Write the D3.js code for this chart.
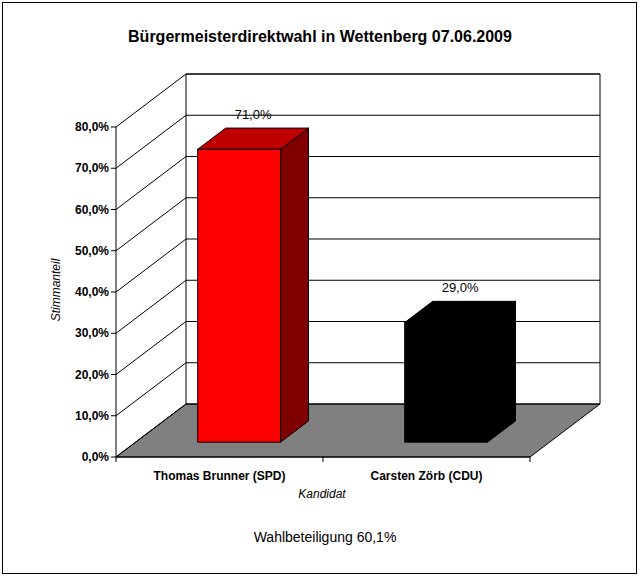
<!DOCTYPE html><html><head><meta charset="utf-8">
<script src="https://cdn.jsdelivr.net/npm/d3@7"></script>
<style>body{margin:0;background:#fff}</style></head><body>
<svg id="c" width="640" height="577"></svg>
<script>
const categories=["Thomas Brunner (SPD)","Carsten Zörb (CDU)"];
const values=[71.0,29.0];
const colors=["#ff0000","#000000"];
const sideColors=["#800000","#000000"];
const topColors=["#c00000","#000000"];
const ticks=[0,10,20,30,40,50,60,70,80];
const svg=d3.select("#c");
const F="Arial, 'Liberation Sans', sans-serif";
svg.append("rect").attr("x",2.5).attr("y",2.5).attr("width",634).attr("height",571).attr("fill","#fff").attr("stroke","#000");
const x0=116,x1=530,DX=70,DY=-53;
const y=d3.scaleLinear().domain([0,80]).range([457,127]);
const xb=d3.scaleBand().domain(categories).range([x0,x1]);
const g=svg.append("g").attr("stroke","#000").attr("stroke-width",1);
// floor
g.append("path").attr("d",`M${x0},457L${x1},457L${x1+DX},${457+DY}L${x0+DX},${457+DY}Z`).attr("fill","#808080");
// back wall & side wall
g.append("path").attr("d",`M${x0+DX},${y(80)+DY}L${x1+DX},${y(80)+DY}L${x1+DX},${457+DY}`).attr("fill","none");
g.append("line").attr("x1",x0+DX).attr("x2",x0+DX).attr("y1",y(80)+DY).attr("y2",457+DY);
ticks.forEach(t=>{
  g.append("path").attr("fill","none").attr("d",`M${x0},${y(t)}L${x0+DX},${y(t)+DY}L${x1+DX},${y(t)+DY}`);
  g.append("line").attr("x1",x0-5).attr("x2",x0).attr("y1",y(t)).attr("y2",y(t));
  svg.append("text").attr("x",x0-7).attr("y",y(t)+4).attr("text-anchor","end").attr("font-family",F).attr("font-size",12).attr("font-weight","bold").text(t.toFixed(1).replace(".",",")+"%");
});
g.append("line").attr("x1",x0).attr("x2",x0).attr("y1",y(80)).attr("y2",457);
g.append("line").attr("x1",x0).attr("x2",x1).attr("y1",457).attr("y2",457);
[x0,(x0+x1)/2,x1].forEach(v=>g.append("line").attr("x1",v).attr("x2",v).attr("y1",457).attr("y2",462));
// bars
const t0=0.28,bw=xb.bandwidth()*0.4,bd=0.4;
const ox=DX*t0,oy=DY*t0,ddx=DX*bd,ddy=DY*bd;
categories.forEach((c,i)=>{
  const xl=xb(c)+xb.bandwidth()*0.3+ox,xr=xl+bw,yb=457+oy,yt=y(values[i])+oy;
  const bg=svg.append("g").attr("stroke","#000");
  bg.append("path").attr("fill",sideColors[i]).attr("d",`M${xr},${yb}L${xr+ddx},${yb+ddy}L${xr+ddx},${yt+ddy}L${xr},${yt}Z`);
  bg.append("path").attr("fill",topColors[i]).attr("d",`M${xl},${yt}L${xl+ddx},${yt+ddy}L${xr+ddx},${yt+ddy}L${xr},${yt}Z`);
  bg.append("rect").attr("fill",colors[i]).attr("x",xl).attr("y",yt).attr("width",bw).attr("height",yb-yt);
  svg.append("text").attr("x",xl+bw/2+ddx/2).attr("y",yt+ddy-9).attr("text-anchor","middle").attr("font-family",F).attr("font-size",13).text(values[i].toFixed(1).replace(".",",")+"%");
  svg.append("text").attr("x",xb(c)+xb.bandwidth()/2).attr("y",480).attr("text-anchor","middle").attr("font-family",F).attr("font-size",12).attr("font-weight","bold").text(c);
});
svg.append("text").attr("x",320).attr("y",42).attr("text-anchor","middle").attr("font-family",F).attr("font-size",16).attr("font-weight","bold").text("Bürgermeisterdirektwahl in Wettenberg 07.06.2009");
svg.append("text").attr("transform","translate(60,290) rotate(-90)").attr("text-anchor","middle").attr("font-family",F).attr("font-size",12).attr("font-style","italic").text("Stimmanteil");
svg.append("text").attr("x",322).attr("y",498).attr("text-anchor","middle").attr("font-family",F).attr("font-size",12).attr("font-style","italic").text("Kandidat");
svg.append("text").attr("x",325).attr("y",542).attr("text-anchor","middle").attr("font-family",F).attr("font-size",14).text("Wahlbeteiligung 60,1%");
</script></body></html>
